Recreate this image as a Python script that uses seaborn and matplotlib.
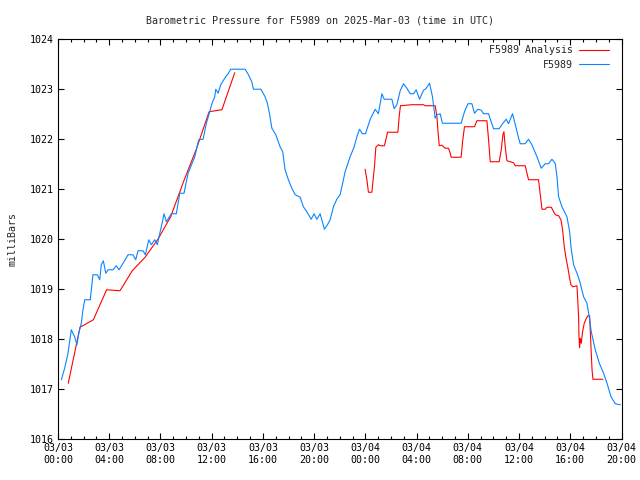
import numpy as np
import pandas as pd
import matplotlib
matplotlib.use("Agg")
import matplotlib.pyplot as plt
import matplotlib.dates as mdates
import seaborn as sns

# hours after 2025-03-03 00:00 UTC, pressure in mb
obs_hours = [0.26, 0.52, 0.78, 1.04, 1.30, 1.48, 1.62, 1.82, 1.95, 2.09, 2.52, 2.73,
             3.07, 3.26, 3.38, 3.54, 3.73, 3.91, 4.30, 4.55, 4.77, 5.08, 5.47, 5.86,
             6.07, 6.25, 6.64, 6.82, 7.09, 7.29, 7.55, 7.76, 7.95, 8.13, 8.28, 8.46,
             8.85, 9.24, 9.51, 9.84, 10.16, 10.68, 10.99, 11.33, 11.59, 11.85, 12.03,
             12.24, 12.32, 12.50, 12.71, 13.02, 13.28, 13.49, 14.61, 14.87, 15.13,
             15.26, 15.84, 16.17, 16.35, 16.51, 16.70, 17.01, 17.34, 17.55, 17.73,
             17.99, 18.26, 18.52, 18.91, 19.16, 19.43, 19.77, 20.00, 20.21, 20.47,
             20.80, 21.04, 21.25, 21.51, 21.77, 22.03, 22.42, 22.81, 23.13, 23.34,
             23.54, 23.77, 24.01, 24.38, 24.77, 25.02, 25.29, 25.47, 26.07, 26.25,
             26.46, 26.72, 26.98, 27.24, 27.50, 27.76, 27.97, 28.23, 28.54, 28.73,
             29.01, 29.24, 29.45, 29.59, 29.84, 30.02, 31.48, 31.74, 32.01, 32.32,
             32.52, 32.79, 33.05, 33.23, 33.62, 33.77, 34.01, 34.45, 34.71, 35.00,
             35.18, 35.49, 35.70, 35.96, 36.09, 36.48, 36.74, 37.00, 37.40, 37.73,
             38.05, 38.30, 38.57, 38.83, 38.96, 39.09, 39.35, 39.74, 39.95, 40.08,
             40.26, 40.57, 40.78, 41.04, 41.30, 41.48, 41.64, 41.95, 42.27, 42.60,
             42.87, 43.18, 43.52, 43.91]
obs_mb = [1017.19, 1017.42, 1017.72, 1018.19, 1018.05, 1017.89, 1018.12, 1018.32,
          1018.59, 1018.79, 1018.79, 1019.29, 1019.29, 1019.19, 1019.49, 1019.57,
          1019.32, 1019.39, 1019.39, 1019.47, 1019.39, 1019.52, 1019.69, 1019.69,
          1019.59, 1019.77, 1019.77, 1019.69, 1019.99, 1019.89, 1019.99, 1019.89,
          1020.12, 1020.32, 1020.51, 1020.35, 1020.51, 1020.51, 1020.92, 1020.92,
          1021.32, 1021.65, 1021.99, 1022.00, 1022.32, 1022.55, 1022.72, 1022.85,
          1023.00, 1022.92, 1023.09, 1023.22, 1023.31, 1023.40, 1023.40, 1023.29,
          1023.15, 1023.00, 1023.00, 1022.85, 1022.72, 1022.52, 1022.22, 1022.09,
          1021.85, 1021.75, 1021.39, 1021.19, 1021.02, 1020.89, 1020.84, 1020.65,
          1020.55, 1020.40, 1020.51, 1020.40, 1020.51, 1020.20, 1020.29, 1020.39,
          1020.65, 1020.80, 1020.89, 1021.35, 1021.65, 1021.85, 1022.05, 1022.20,
          1022.11, 1022.11, 1022.40, 1022.60, 1022.51, 1022.91, 1022.80, 1022.80,
          1022.61, 1022.69, 1022.97, 1023.11, 1023.02, 1022.91, 1022.91, 1022.99,
          1022.80, 1022.98, 1023.01, 1023.12, 1022.85, 1022.42, 1022.49, 1022.51,
          1022.32, 1022.32, 1022.55, 1022.71, 1022.71, 1022.52, 1022.60, 1022.58,
          1022.51, 1022.51, 1022.39, 1022.21, 1022.21, 1022.31, 1022.40, 1022.31,
          1022.51, 1022.30, 1022.03, 1021.91, 1021.91, 1022.00, 1021.89, 1021.65,
          1021.42, 1021.51, 1021.51, 1021.60, 1021.51, 1021.25, 1020.85, 1020.65,
          1020.45, 1020.15, 1019.79, 1019.49, 1019.29, 1019.12, 1018.85, 1018.72,
          1018.45, 1018.15, 1017.79, 1017.52, 1017.32, 1017.12, 1016.85, 1016.71,
          1016.69]

# analysis, first day piece
ana1_hours = [0.80, 1.72, 2.76, 3.80, 4.84, 5.80, 6.80, 7.80, 8.80, 9.80, 10.80,
              11.80, 12.80, 13.80]
ana1_mb = [1017.12, 1018.24, 1018.39, 1018.99, 1018.97, 1019.37, 1019.64, 1020.00,
           1020.45, 1021.15, 1021.80, 1022.55, 1022.59, 1023.33]

# analysis, second day piece
ana2_hours = [23.98, 24.12, 24.24, 24.51, 24.55, 24.71, 24.82, 25.02, 25.16, 25.49,
              25.60, 25.73, 26.54, 26.64, 26.74, 27.63, 28.54, 28.67, 29.45, 29.59,
              29.66, 29.77, 29.98, 30.10, 30.23, 30.49, 30.63, 30.70, 31.48, 31.59,
              31.74, 32.52, 32.71, 33.49, 33.62, 33.75, 34.45, 34.61, 34.74, 34.82,
              34.92, 35.05, 35.31, 35.57, 35.70, 36.48, 36.62, 36.74, 37.52, 37.66,
              37.79, 38.05, 38.18, 38.52, 38.70, 38.83, 39.09, 39.27, 39.40, 39.53,
              39.69, 39.82, 39.95, 40.05, 40.21, 40.52, 40.57, 40.65, 40.68, 40.73,
              40.78, 40.86, 40.96, 41.09, 41.25, 41.38, 41.51, 41.56, 41.62, 41.70,
              41.77, 42.55]
ana2_mb = [1021.40, 1021.19, 1020.94, 1020.94, 1021.05, 1021.45, 1021.84, 1021.89,
           1021.87, 1021.87, 1021.99, 1022.14, 1022.14, 1022.45, 1022.67, 1022.69,
           1022.69, 1022.67, 1022.67, 1022.45, 1022.19, 1021.87, 1021.88, 1021.85,
           1021.82, 1021.82, 1021.72, 1021.64, 1021.64, 1021.95, 1022.25, 1022.25,
           1022.37, 1022.37, 1021.99, 1021.55, 1021.55, 1021.79, 1022.09, 1022.15,
           1021.85, 1021.57, 1021.55, 1021.53, 1021.47, 1021.47, 1021.32, 1021.19,
           1021.19, 1020.89, 1020.60, 1020.60, 1020.64, 1020.64, 1020.55, 1020.49,
           1020.47, 1020.39, 1020.19, 1019.85, 1019.59, 1019.42, 1019.22, 1019.09,
           1019.05, 1019.07, 1018.85, 1018.45, 1018.05, 1017.83, 1018.02, 1017.92,
           1018.15, 1018.32, 1018.42, 1018.47, 1018.47, 1018.19, 1017.82, 1017.39,
           1017.20, 1017.20]

series_names = ["F5989 Analysis", "F5989"]
series_colors = ["#ff0000", "#0a84ff"]
y_ticks = [1016, 1017, 1018, 1019, 1020, 1021, 1022, 1023, 1024]

start = pd.Timestamp("2025-03-03 00:00")


def to_frame(hours, mb, name, seg):
    return pd.DataFrame({
        "time": start + pd.to_timedelta(hours, unit="h"),
        "pressure": mb,
        "series": name,
        "segment": seg,
    })


df = pd.concat([
    to_frame(ana1_hours, ana1_mb, series_names[0], 0),
    to_frame(ana2_hours, ana2_mb, series_names[0], 1),
    to_frame(obs_hours, obs_mb, series_names[1], 2),
], ignore_index=True)

sns.set_style("ticks")
plt.rcParams["font.family"] = ["DejaVu Sans Mono"]
plt.rcParams["axes.edgecolor"] = "black"
plt.rcParams["axes.linewidth"] = 0.8

fig = plt.figure(figsize=(6.4, 4.8), dpi=100)
ax = fig.add_axes([0.0906, 0.0848, 0.8805, 0.8335])

sns.lineplot(data=df, x="time", y="pressure", hue="series", hue_order=series_names,
             palette=series_colors, units="segment", estimator=None,
             linewidth=0.8, ax=ax)

ax.set_xlim(start, start + pd.Timedelta(hours=44))
ax.set_ylim(1016, 1024)
ax.set_yticks(y_ticks)
ax.xaxis.set_major_locator(mdates.HourLocator(byhour=range(0, 24, 4)))
ax.xaxis.set_minor_locator(mdates.HourLocator())
ax.xaxis.set_major_formatter(mdates.DateFormatter("%m/%d\n%H:%M"))

ax.tick_params(which="both", direction="in", top=True, right=True,
               colors="black", labelsize=7.2, width=0.8)
ax.tick_params(which="major", length=4.5, pad=3)
ax.tick_params(which="minor", length=2.5)
for lbl in ax.get_xticklabels():
    lbl.set_linespacing(1.15)

ax.set_xlabel("")
ax.set_ylabel("milliBars", fontsize=7.2, labelpad=9)
fig.suptitle("Barometric Pressure for F5989 on 2025-Mar-03 (time in UTC)",
             fontsize=7.2, y=0.967)

ax.legend(loc="upper right", bbox_to_anchor=(0.988, 1.0), frameon=False,
          markerfirst=False, fontsize=7.2, handlelength=3.0, labelspacing=0.45,
          borderaxespad=0.2, handletextpad=0.6)

fig.savefig("out.png", dpi=100)
